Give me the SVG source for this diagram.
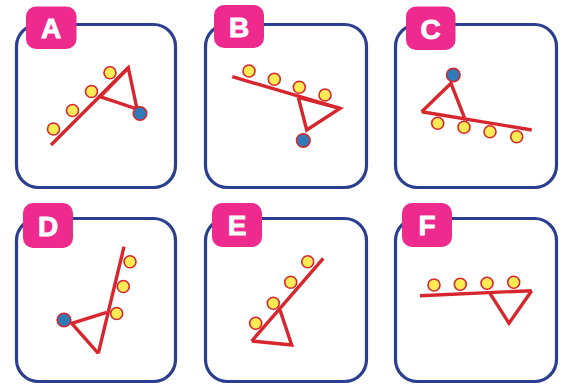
<svg xmlns="http://www.w3.org/2000/svg" width="574" height="385" viewBox="0 0 574 385">
<style>
.box{fill:#fff;stroke:#2a3f8f;stroke-width:3.2}
.tag{fill:#ee2a8f}
.lt{font-family:"Liberation Sans",Arial,sans-serif;font-weight:bold;font-size:28px;fill:#fff;stroke:#fff;stroke-width:0.9;text-anchor:middle}
.beam{stroke:#d7262d;stroke-width:3.4;fill:none;stroke-linejoin:miter;stroke-linecap:butt}
.y{fill:#ffec55;stroke:#d7262d;stroke-width:1.6}
.b{fill:#2f7bb9;stroke:#d7262d;stroke-width:1.6}
</style>
<rect width="574" height="385" fill="#fff"/>
<g id="panelA">
<rect class="box" x="16.5" y="24.5" width="159" height="163" rx="22"/>
<rect class="tag" x="26" y="6.5" width="50.5" height="42.5" rx="10"/>
<text class="lt" x="51" y="38">A</text>
<line class="beam" x1="51" y1="145" x2="128.3" y2="67.7"/>
<polyline class="beam" points="100,96.7 128.3,67.7 137,109 100,96.7"/>
<circle class="b" cx="140" cy="113.5" r="6.8"/>
<circle class="y" cx="53.5" cy="129" r="6"/>
<circle class="y" cx="72.5" cy="110.5" r="6"/>
<circle class="y" cx="91.5" cy="91.5" r="6"/>
<circle class="y" cx="110" cy="72.7" r="6"/>
</g>
<g id="panelB">
<rect class="box" x="205.5" y="24.5" width="161" height="163" rx="22"/>
<rect class="tag" x="214" y="5" width="50" height="43" rx="10"/>
<text class="lt" x="239" y="37">B</text>
<line class="beam" x1="232.3" y1="76.7" x2="340" y2="108.3"/>
<polyline class="beam" points="298.3,97.3 340,108.3 306.7,130 298.3,97.3"/>
<circle class="b" cx="303.3" cy="140.5" r="6.8"/>
<circle class="y" cx="249" cy="71" r="6"/>
<circle class="y" cx="274.3" cy="79.3" r="6"/>
<circle class="y" cx="299.3" cy="87.3" r="6"/>
<circle class="y" cx="325" cy="95" r="6"/>
</g>
<g id="panelC">
<rect class="box" x="395.5" y="24.5" width="161" height="163" rx="22"/>
<rect class="tag" x="406" y="6.5" width="49.5" height="43.5" rx="10"/>
<text class="lt" x="430.7" y="38.5">C</text>
<line class="beam" x1="421.7" y1="111.7" x2="531.7" y2="130"/>
<polyline class="beam" points="421.7,111.7 451,83.3 464.3,117.3"/>
<circle class="b" cx="453.3" cy="75" r="6.8"/>
<circle class="y" cx="437.7" cy="123.3" r="6"/>
<circle class="y" cx="464" cy="127.3" r="6"/>
<circle class="y" cx="490" cy="131.7" r="6"/>
<circle class="y" cx="516.7" cy="136.7" r="6"/>
</g>
<g id="panelD">
<rect class="box" x="16.5" y="218.5" width="159" height="163" rx="22"/>
<rect class="tag" x="23" y="203" width="50" height="45" rx="10"/>
<text class="lt" x="48" y="235.5">D</text>
<line class="beam" x1="124" y1="246.7" x2="98.3" y2="353.3"/>
<polyline class="beam" points="98.3,353.3 71.7,323.3 106.7,312.3"/>
<circle class="b" cx="64" cy="320" r="6.8"/>
<circle class="y" cx="130" cy="261.7" r="6"/>
<circle class="y" cx="123.3" cy="286.5" r="6"/>
<circle class="y" cx="116.7" cy="313.5" r="6"/>
</g>
<g id="panelE">
<rect class="box" x="205.5" y="218.5" width="161" height="163" rx="22"/>
<rect class="tag" x="212" y="203" width="50" height="44" rx="10"/>
<text class="lt" x="237" y="235">E</text>
<line class="beam" x1="323.3" y1="258.3" x2="251.7" y2="341"/>
<polyline class="beam" points="251.7,341 291.7,345 280,310"/>
<circle class="y" cx="307.7" cy="261.7" r="6"/>
<circle class="y" cx="290.7" cy="282.3" r="6"/>
<circle class="y" cx="273.3" cy="303.3" r="6"/>
<circle class="y" cx="255.7" cy="323.3" r="6"/>
</g>
<g id="panelF">
<rect class="box" x="395.5" y="218.5" width="161" height="163" rx="22"/>
<rect class="tag" x="402" y="203" width="50" height="44" rx="10"/>
<text class="lt" x="427" y="235">F</text>
<line class="beam" x1="420" y1="295.7" x2="531.7" y2="290.7"/>
<polyline class="beam" points="490,293.3 509,323.3 531.7,290.7"/>
<circle class="y" cx="434" cy="285" r="6"/>
<circle class="y" cx="460.3" cy="284.3" r="6"/>
<circle class="y" cx="487" cy="283.3" r="6"/>
<circle class="y" cx="513.7" cy="282.3" r="6"/>
</g>
</svg>
